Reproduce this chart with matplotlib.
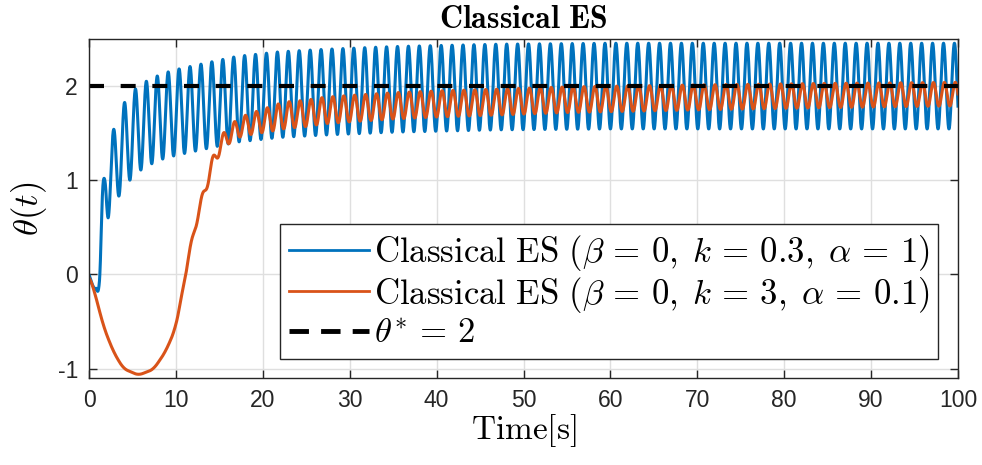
import numpy as np
import matplotlib
matplotlib.use("Agg")
import matplotlib.pyplot as plt

# ── values ───────────────────────────────────────────────────────────────────
# slow part (centre of the oscillation) of each trajectory, knots in seconds
BLUE_T    = [0, 0.35, 0.7, 1.0, 1.27, 1.57, 1.92, 2.2, 2.83, 3.46, 4.08, 4.71,
             5.34, 5.97, 6.6, 7.5, 8.5, 10, 12, 14, 17, 22, 27, 35, 47, 60, 100]
BLUE_MEAN = [0, -0.1, -0.17, -0.1, 0.0, 0.6, 1.0, 1.02, 1.1, 1.28, 1.38, 1.45,
             1.52, 1.56, 1.6, 1.64, 1.68, 1.72, 1.76, 1.8, 1.86, 1.91, 1.935,
             1.965, 1.99, 2.0, 2.0]
# half peak-to-trough of the blue ripple
BLUE_AMP_T = [0, 0.8, 1.5, 2.2, 3.0, 5.0, 10, 100]
BLUE_AMP   = [0, 0, 0.3, 0.42, 0.44, 0.45, 0.455, 0.455]

ORANGE_T    = [0, 0.69, 1.65, 2.8, 3.95, 5.67, 7.4, 8.75, 9.9, 10.47, 11.1,
               11.7, 12.5, 13.5, 14.3, 15.1, 16.3, 17.5, 18.7, 20, 21.3, 22.5,
               25, 27, 30, 35, 40, 47, 55, 70, 85, 100]
ORANGE_MEAN = [0, -0.2, -0.55, -0.82, -1.0, -1.07, -1.01, -0.83, -0.59, -0.34,
               0.01, 0.3, 0.62, 0.96, 1.2, 1.38, 1.5, 1.57, 1.6, 1.63, 1.66,
               1.69, 1.71, 1.74, 1.76, 1.79, 1.81, 1.83, 1.855, 1.88, 1.9, 1.915]
ORANGE_AMP_T = [0, 10, 11, 12.5, 14, 16, 19, 22, 30, 60, 100]
ORANGE_AMP   = [0, 0, 0.02, 0.04, 0.07, 0.09, 0.115, 0.14, 0.14, 0.135, 0.125]

OMEGA      = 5.0    # rad/s, from the ripple peak spacing (~1.257 s)
ORANGE_LAG = 0.1    # s, orange peaks trail the blue ones slightly
THETA_STAR = 2.0

LABELS = [r"$\mathrm{Classical\ ES}\ (\beta\,=\,0,\;k\,=\,0.3,\;\alpha\,=\,1)$",
          r"$\mathrm{Classical\ ES}\ (\beta\,=\,0,\;k\,=\,3,\;\alpha\,=\,0.1)$",
          r"$\theta^{*}\,=\,2$"]

BLUE   = "#0072BD"
ORANGE = "#D95319"
AXC    = "#262626"


def smooth(y, n):
    pad = np.pad(y, n // 2, mode="edge")
    return np.convolve(pad, np.ones(n) / n, mode="valid")


def build(t, kt, km, at, av, lag, win):
    mean = smooth(np.interp(t, kt, km), win)
    amp = np.interp(t, at, av)
    return mean + amp * np.sin(OMEGA * (t - lag))


# ── figure ───────────────────────────────────────────────────────────────────
plt.rcParams["mathtext.fontset"] = "cm"
plt.rcParams["axes.unicode_minus"] = False

t = np.linspace(0, 100, 20001)
y_blue = build(t, BLUE_T, BLUE_MEAN, BLUE_AMP_T, BLUE_AMP, 0.0, 31)
y_orange = build(t, ORANGE_T, ORANGE_MEAN, ORANGE_AMP_T, ORANGE_AMP,
                 ORANGE_LAG, 201)

fig = plt.figure(figsize=(9.82, 4.65), dpi=100)
ax = fig.add_axes([89 / 982, 1 - 378 / 465, (958 - 89) / 982, (378 - 39) / 465])

ax.plot(t, y_blue, color=BLUE, lw=2.2, label=LABELS[0])
ax.plot(t, y_orange, color=ORANGE, lw=2.2, label=LABELS[1])
ax.plot([t[0], t[-1]], [THETA_STAR, THETA_STAR], color="k", lw=3,
        linestyle=(0, (3.6, 4.0)), label=LABELS[2])

ax.set_xlim(0, 100)
ax.set_ylim(-1.1, 2.5)
ax.set_xticks(np.arange(0, 101, 10))
ax.set_yticks([-1, 0, 1, 2])
ax.grid(True, color="#dfdfdf", lw=1)
ax.set_axisbelow(True)

for s in ax.spines.values():
    s.set_color(AXC)
    s.set_linewidth(1)
ax.tick_params(direction="in", length=6, width=1, color=AXC, labelcolor=AXC,
               top=True, right=True, pad=8)
for lab in ax.get_xticklabels() + ax.get_yticklabels():
    lab.set_family(["Liberation Sans", "DejaVu Sans"])
    lab.set_fontsize(16.5)

ax.set_title(r"$\mathbf{Classical\ ES}$", fontsize=23, pad=8)
ax.set_xlabel(r"$\mathrm{Time[s]}$", fontsize=24, labelpad=0)
ax.set_ylabel(r"$\theta(t)$", fontsize=25, labelpad=6)

leg = ax.legend(loc="lower right", bbox_to_anchor=(0.977, 0.056),
                borderaxespad=0, fontsize=25, frameon=True, fancybox=False,
                framealpha=1, edgecolor=AXC, handlelength=2.3,
                handletextpad=0.15, labelspacing=0.05, borderpad=0.25)
leg.get_frame().set_linewidth(1)
hl = leg.get_lines()
hl[0].set_linewidth(2)
hl[1].set_linewidth(2)
hl[2].set_linewidth(3.5)
hl[2].set_dashes((4.0, 2.5))

fig.savefig("out.png", dpi=100)
